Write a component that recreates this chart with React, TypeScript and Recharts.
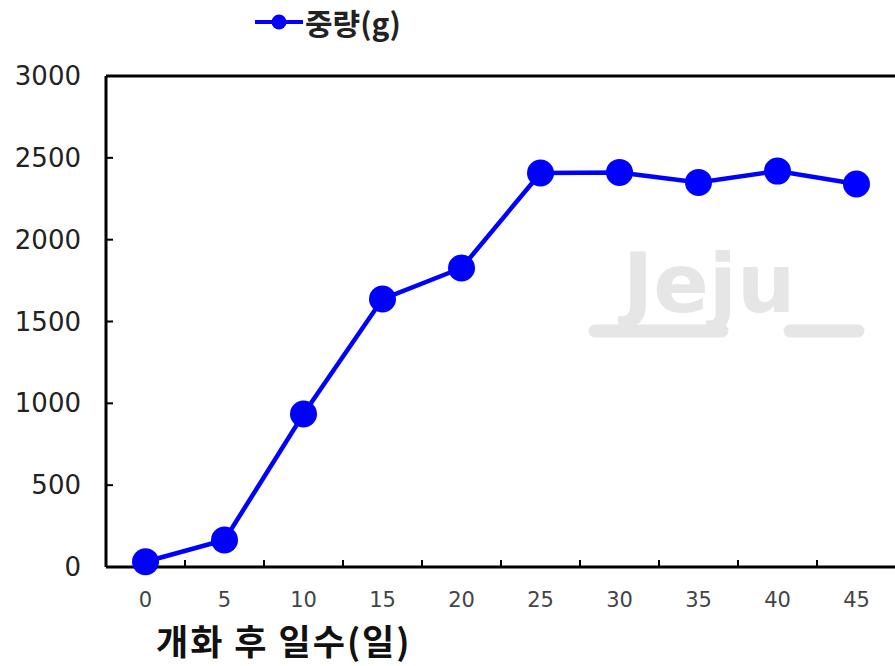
import React from "react";
import { LineChart, Line, XAxis, YAxis, ReferenceLine } from "recharts";

const days = [0, 5, 10, 15, 20, 25, 30, 35, 40, 45];
const weights = [32, 165, 935, 1637, 1827, 2407, 2411, 2350, 2419, 2340];
const xLabelTicks = [0, 2.5, 5, 7.5, 10, 12.5, 15, 17.5, 20, 22.5, 25, 27.5, 30, 32.5, 35, 37.5, 40, 42.5, 45];
const yTicks = [0, 500, 1000, 1500, 2000, 2500, 3000];
const seriesName = "중량(g)";
const xTitle = "개화 후 일수(일)";

const data = days.map((d, i) => ({ day: d, weight: weights[i] }));

const BLUE = "#0000FF";
const NUM_FONT = "'DejaVu Sans', 'Liberation Sans', sans-serif";
const KR_FONT = "'Noto Sans CJK KR', 'Noto Sans', sans-serif";

const XTick = (props: any) => {
  const { x, y, payload } = props;
  const v = payload.value as number;
  if (v % 5 !== 0) {
    return <line x1={x} x2={x} y1={y} y2={y - 7} stroke="#000" strokeWidth={2} />;
  }
  return (
    <text x={x} y={y + 40} textAnchor="middle" fontSize={21} fontFamily={NUM_FONT} fill="#444">
      {v}
    </text>
  );
};

const YTick = (props: any) => {
  const { x, y, payload } = props;
  const v = payload.value as number;
  return (
    <g>
      {v !== 0 && v !== 3000 && <line x1={x} x2={x + 7} y1={y} y2={y} stroke="#000" strokeWidth={2} />}
      <text x={x - 25} y={y + 9} textAnchor="end" fontSize={26} fontFamily={NUM_FONT} fill="#222">
        {v}
      </text>
    </g>
  );
};

export default function App() {
  return (
    <div style={{ position: "absolute", left: 0, top: 0, width: 895, height: 666, overflow: "hidden", background: "#fff" }}>
      <svg width={895} height={666} style={{ position: "absolute", left: 0, top: 0 }}>
        <text x={709} y={312} textAnchor="middle" fontSize={82} fontWeight="bold" fontFamily={NUM_FONT} fill="#e6e6e6">
          Jeju
        </text>
        <line x1={595} x2={722} y1={331} y2={331} stroke="#e6e6e6" strokeWidth={13} strokeLinecap="round" />
        <line x1={790} x2={858} y1={331} y2={331} stroke="#e6e6e6" strokeWidth={13} strokeLinecap="round" />
      </svg>
      <div style={{ position: "absolute", left: 0, top: 0 }}>
        <LineChart width={900} height={666} data={data} margin={{ top: 76, right: 4, bottom: 0, left: 0 }}>
          <XAxis
            dataKey="day"
            type="number"
            domain={[-2.5, 47.5]}
            ticks={xLabelTicks}
            interval={0}
            tick={<XTick />}
            tickLine={false}
            tickSize={0}
            tickMargin={0}
            height={99}
            axisLine={{ stroke: "#000", strokeWidth: 3 }}
            allowDataOverflow
          />
          <YAxis
            type="number"
            domain={[0, 3000]}
            ticks={yTicks}
            interval={0}
            tick={<YTick />}
            tickLine={false}
            tickSize={0}
            tickMargin={0}
            width={106}
            axisLine={{ stroke: "#000", strokeWidth: 3 }}
          />
          <ReferenceLine y={3000} stroke="#000" strokeWidth={3} />
          <Line
            dataKey="weight"
            name={seriesName}
            stroke={BLUE}
            strokeWidth={4.5}
            dot={{ r: 13.5, fill: BLUE, stroke: "none" }}
            isAnimationActive={false}
          />
        </LineChart>
      </div>
      <div style={{ position: "absolute", left: 254, top: 1, display: "flex", alignItems: "center", height: 42 }}>
        <svg width={50} height={20}>
          <line x1={1} x2={49} y1={10} y2={10} stroke={BLUE} strokeWidth={4} />
          <circle cx={25} cy={10} r={7.5} fill={BLUE} />
        </svg>
        <span style={{ fontFamily: KR_FONT, fontWeight: 700, fontSize: 30, color: "#222", marginLeft: 1, lineHeight: "42px" }}>{seriesName}</span>
      </div>
      <div style={{ position: "absolute", left: 156, top: 618, fontFamily: KR_FONT, fontWeight: 700, fontSize: 35, letterSpacing: 2, color: "#111", whiteSpace: "nowrap", lineHeight: "44px" }}>
        {xTitle}
      </div>
    </div>
  );
}
